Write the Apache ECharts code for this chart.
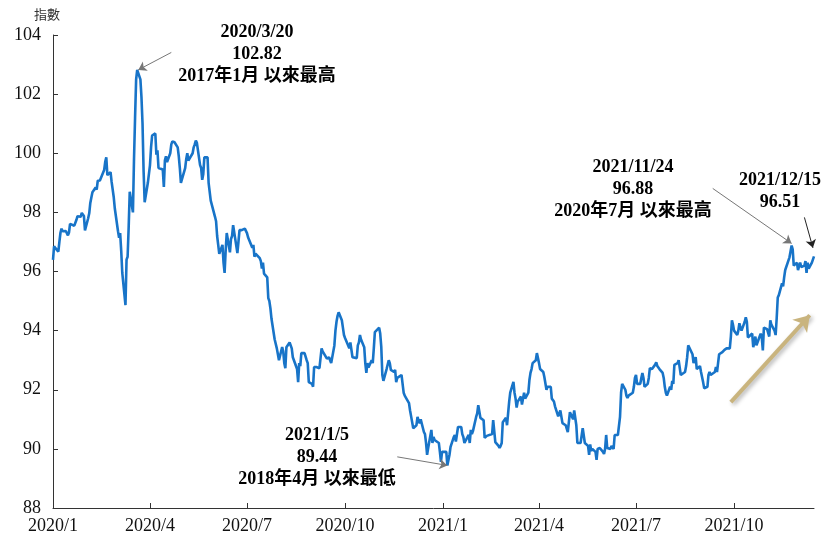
<!DOCTYPE html>
<html>
<head>
<meta charset="utf-8">
<script src="https://cdn.jsdelivr.net/npm/echarts@6/dist/echarts.min.js"></script>
<style>
  html, body { margin: 0; padding: 0; background: #fff; }
  #main { width: 825px; height: 540px; }
</style>
</head>
<body>
<div id="main"></div>
<script>
// 美元指數 日資料 (2020/1 ~ 2021/12/15)
var days2020 = [
  '01-01','01-02','01-03','01-06','01-07','01-08','01-09','01-10','01-13','01-14','01-15','01-16','01-17','01-21','01-22','01-23','01-24','01-27','01-28','01-29','01-30','01-31',
  '02-03','02-04','02-05','02-06','02-07','02-10','02-11','02-12','02-13','02-14','02-18','02-19','02-20','02-21','02-24','02-25','02-26','02-27','02-28',
  '03-02','03-03','03-04','03-05','03-06','03-09','03-10','03-11','03-12','03-13','03-16','03-17','03-18','03-19','03-20','03-23','03-24','03-25','03-26','03-27','03-30','03-31',
  '04-01','04-02','04-03','04-06','04-07','04-08','04-09','04-13','04-14','04-15','04-16','04-17','04-20','04-21','04-22','04-23','04-24','04-27','04-28','04-29','04-30',
  '05-01','05-04','05-05','05-06','05-07','05-08','05-11','05-12','05-13','05-14','05-15','05-18','05-19','05-20','05-21','05-22','05-25','05-26','05-27','05-28','05-29',
  '06-01','06-02','06-03','06-04','06-05','06-08','06-09','06-10','06-11','06-12','06-15','06-16','06-17','06-18','06-19','06-22','06-23','06-24','06-25','06-26','06-29','06-30',
  '07-01','07-02','07-06','07-07','07-08','07-09','07-10','07-13','07-14','07-15','07-16','07-17','07-20','07-21','07-22','07-23','07-24','07-27','07-28','07-29','07-30','07-31',
  '08-03','08-04','08-05','08-06','08-07','08-10','08-11','08-12','08-13','08-14','08-17','08-18','08-19','08-20','08-21','08-24','08-25','08-26','08-27','08-28','08-31',
  '09-01','09-02','09-03','09-04','09-07','09-08','09-09','09-10','09-11','09-14','09-15','09-16','09-17','09-18','09-21','09-22','09-23','09-24','09-25','09-28','09-29','09-30',
  '10-01','10-02','10-05','10-06','10-07','10-08','10-09','10-12','10-13','10-14','10-15','10-16','10-19','10-20','10-21','10-22','10-23','10-26','10-27','10-28','10-29','10-30',
  '11-02','11-03','11-04','11-05','11-06','11-09','11-10','11-11','11-12','11-13','11-16','11-17','11-18','11-19','11-20','11-23','11-24','11-25','11-26','11-27','11-30',
  '12-01','12-02','12-03','12-04','12-07','12-08','12-09','12-10','12-11','12-14','12-15','12-16','12-17','12-18','12-21','12-22','12-23','12-24','12-28','12-29','12-30','12-31'
];
var values2020 = [
  96.39,96.85,96.84,96.67,97.00,97.31,97.45,97.36,97.37,97.37,97.22,97.32,97.61,97.55,97.58,97.75,97.87,97.85,97.98,98.00,97.88,97.39,
  97.80,97.97,98.32,98.50,98.68,98.84,98.77,99.07,99.05,99.08,99.43,99.71,99.86,99.26,99.36,99.03,98.97,98.51,98.13,
  97.36,97.14,97.30,96.70,95.95,94.86,96.40,96.50,97.50,98.70,98.00,99.80,101.20,102.50,102.82,102.50,101.90,101.00,99.40,98.34,99.00,99.05,
  99.60,100.20,100.60,100.67,99.95,100.10,99.50,99.45,98.86,99.76,99.90,99.70,100.00,100.30,100.40,100.42,100.37,100.20,99.90,99.50,99.00,
  99.05,99.50,99.80,100.00,99.75,99.73,100.00,100.20,100.30,100.43,100.35,99.60,99.50,99.10,99.30,99.86,99.86,99.00,98.95,98.40,98.34,
  97.85,97.70,97.20,96.90,96.60,96.90,96.30,95.95,96.70,97.30,96.65,97.10,97.20,97.57,97.55,96.62,97.00,97.40,97.40,97.40,97.45,97.50,
  97.30,97.16,96.80,96.90,96.50,96.60,96.60,96.45,96.35,96.10,96.30,95.93,95.80,95.10,95.00,94.75,94.40,93.70,93.68,93.40,93.20,93.00,
  93.44,93.30,92.90,92.73,93.44,93.60,93.58,93.40,93.10,93.10,92.70,92.26,92.90,92.80,93.24,93.24,93.24,93.00,92.90,92.26,92.20,
  92.10,92.77,92.80,92.77,92.73,92.75,93.40,93.30,93.27,93.05,93.00,93.10,93.00,92.90,93.50,94.00,94.30,94.50,94.62,94.35,94.10,93.85,
  93.75,93.80,93.40,93.60,93.60,93.10,93.07,93.07,93.50,93.60,93.85,93.70,93.44,92.90,92.57,92.90,92.75,93.00,92.90,93.40,93.95,94.00,
  94.10,93.90,93.45,92.50,92.30,92.70,92.70,93.00,92.90,92.67,92.60,92.67,92.26,92.40,92.40,92.50,92.20,91.90,91.80,91.80,91.55,
  91.30,91.10,91.05,90.70,90.80,91.08,90.95,90.87,91.00,90.57,90.50,90.20,89.80,90.03,90.64,90.20,90.40,90.30,90.20,89.90,89.56,89.90
];
var days2021 = [
  '01-04','01-05','01-06','01-07','01-08','01-11','01-12','01-13','01-14','01-15','01-18','01-19','01-20','01-21','01-22','01-25','01-26','01-27','01-28','01-29',
  '02-01','02-02','02-03','02-04','02-05','02-08','02-09','02-10','02-11','02-12','02-16','02-17','02-18','02-19','02-22','02-23','02-24','02-25','02-26',
  '03-01','03-02','03-03','03-04','03-05','03-08','03-09','03-10','03-11','03-12','03-15','03-16','03-17','03-18','03-19','03-22','03-23','03-24','03-25','03-26','03-29','03-30','03-31',
  '04-01','04-02','04-05','04-06','04-07','04-08','04-09','04-12','04-13','04-14','04-15','04-16','04-19','04-20','04-21','04-22','04-23','04-26','04-27','04-28','04-29','04-30',
  '05-03','05-04','05-05','05-06','05-07','05-10','05-11','05-12','05-13','05-14','05-17','05-18','05-19','05-20','05-21','05-24','05-25','05-26','05-27','05-28','05-31',
  '06-01','06-02','06-03','06-04','06-07','06-08','06-09','06-10','06-11','06-14','06-15','06-16','06-17','06-18','06-21','06-22','06-23','06-24','06-25','06-28','06-29','06-30',
  '07-01','07-02','07-05','07-06','07-07','07-08','07-09','07-12','07-13','07-14','07-15','07-16','07-19','07-20','07-21','07-22','07-23','07-26','07-27','07-28','07-29','07-30',
  '08-02','08-03','08-04','08-05','08-06','08-09','08-10','08-11','08-12','08-13','08-16','08-17','08-18','08-19','08-20','08-23','08-24','08-25','08-26','08-27','08-30','08-31',
  '09-01','09-02','09-03','09-06','09-07','09-08','09-09','09-10','09-13','09-14','09-15','09-16','09-17','09-20','09-21','09-22','09-23','09-24','09-27','09-28','09-29','09-30',
  '10-01','10-04','10-05','10-06','10-07','10-08','10-11','10-12','10-13','10-14','10-15','10-18','10-19','10-20','10-21','10-22','10-25','10-26','10-27','10-28','10-29',
  '11-01','11-02','11-03','11-04','11-05','11-08','11-09','11-10','11-11','11-12','11-15','11-16','11-17','11-18','11-19','11-22','11-23','11-24','11-25','11-26','11-29','11-30',
  '12-01','12-02','12-03','12-06','12-07','12-08','12-09','12-10','12-13','12-14','12-15'
];
var values2021 = [
  89.90,89.44,89.50,89.80,90.07,90.40,90.47,90.25,90.30,90.74,90.74,90.50,90.40,90.20,90.20,90.47,90.20,90.64,90.50,90.60,
  91.08,91.20,91.48,91.50,91.05,90.97,90.37,90.40,90.44,90.47,90.50,90.97,90.60,90.23,90.10,90.03,90.10,90.20,90.90,
  91.05,90.80,91.20,91.60,91.90,92.27,91.90,91.70,91.40,91.60,91.77,91.50,91.44,91.90,91.70,91.90,92.33,92.57,92.70,92.90,93.00,93.24,93.30,
  92.90,92.70,92.60,92.43,92.40,92.00,92.10,92.10,91.70,91.65,91.60,91.44,91.10,91.05,91.30,91.30,90.87,90.80,90.80,90.57,90.60,91.24,
  91.00,91.30,91.30,90.80,90.20,90.20,90.20,90.70,90.70,90.20,90.10,89.80,90.15,89.93,90.00,89.90,89.63,90.00,90.00,90.03,89.90,
  89.83,90.00,90.47,90.03,90.00,90.10,90.10,90.00,90.47,90.47,90.50,91.08,91.90,92.20,92.00,91.80,91.72,91.80,91.80,91.90,92.10,92.40,
  92.50,92.20,92.20,92.40,92.57,92.40,92.10,92.20,92.40,92.73,92.70,92.70,92.85,92.93,92.80,92.80,92.70,92.57,92.40,92.10,91.90,91.80,
  92.10,92.00,92.30,92.20,92.84,92.90,93.00,93.00,92.50,92.50,92.60,92.80,93.10,93.50,93.50,93.20,92.90,92.84,93.10,92.70,92.80,92.60,
  92.60,92.25,92.05,92.10,92.50,92.60,92.50,92.50,92.60,92.77,92.60,92.90,93.20,93.27,93.30,93.35,93.30,93.40,93.40,93.80,94.35,94.20,
  94.00,93.85,94.00,94.25,94.10,94.00,94.30,94.45,94.30,93.77,93.80,93.90,93.44,93.60,93.80,93.50,93.80,93.90,93.77,93.33,94.10,
  94.05,94.10,93.80,94.35,94.20,94.00,93.85,94.42,95.12,95.20,95.60,95.50,95.80,96.05,96.00,96.48,96.50,96.88,96.75,96.20,96.30,96.05,
  96.05,96.30,96.15,96.20,96.35,95.95,96.30,96.10,96.30,96.35,96.51
];

// x 軸刻度 (季)
var quarterTicks = ['2020/1','2020/4','2020/7','2020/10','2021/1','2021/4','2021/7','2021/10'];

function ts(s) {
  var p = s.split(/[-\/]/);
  return new Date(+p[0], +p[1] - 1, p[2] ? +p[2] : 1).getTime();
}

var seriesData = [];
days2020.forEach(function (d, i) { seriesData.push([ts('2020-' + d), values2020[i]]); });
days2021.forEach(function (d, i) { seriesData.push([ts('2021-' + d), values2021[i]]); });

var tickValues = quarterTicks.map(ts);

var serif = '"Liberation Serif", "Times New Roman", "Noto Sans CJK TC", serif';
var boldFont = 'bold 18px ' + serif;
var grayLine = { color: '#777', width: 1, type: 'solid' };

var chart = echarts.init(document.getElementById('main'));
chart.setOption({
  animation: false,
  backgroundColor: '#fff',
  grid: { left: 53, right: 11, top: 35, bottom: 32 },
  xAxis: {
    type: 'value',
    min: ts('2020-01-01'),
    max: ts('2021-12-15'),
    axisLine: { show: true, lineStyle: { color: '#333', width: 1 } },
    axisTick: { show: true, inside: true, length: 5, customValues: tickValues, lineStyle: { color: '#333' } },
    axisLabel: {
      customValues: tickValues,
      margin: 9,
      color: '#111',
      fontSize: 18,
      fontFamily: serif,
      formatter: function (v) {
        var d = new Date(v);
        return d.getFullYear() + '/' + (d.getMonth() + 1);
      }
    },
    splitLine: { show: false }
  },
  yAxis: {
    type: 'value',
    min: 88,
    max: 104,
    interval: 2,
    axisLine: { show: true, lineStyle: { color: '#333', width: 1 } },
    axisTick: { show: true, inside: true, length: 5, lineStyle: { color: '#333' } },
    axisLabel: { color: '#111', fontSize: 18, fontFamily: serif, margin: 12 },
    splitLine: { show: false }
  },
  series: [
    {
      type: 'line',
      data: seriesData,
      showSymbol: false,
      lineStyle: { color: '#1874c8', width: 2.6 },
      markLine: {
        silent: true,
        animation: false,
        symbol: ['none', 'arrow'],
        label: { show: false },
        data: [
          [
            { coord: [ts('2020-04-21'), 103.41], lineStyle: grayLine },
            { coord: [ts('2020-03-21'), 102.82], symbolSize: 8 }
          ],
          [
            { coord: [ts('2020-11-19'), 89.73], lineStyle: grayLine },
            { coord: [ts('2021-01-05'), 89.44], symbolSize: 8 }
          ],
          [
            { coord: [ts('2021-09-11'), 98.81], lineStyle: grayLine },
            { coord: [ts('2021-11-24'), 96.95], symbolSize: 8 }
          ],
          [
            { coord: [ts('2021-12-06'), 97.83], lineStyle: { color: '#222', width: 1, type: 'solid' } },
            { coord: [ts('2021-12-14'), 96.8], symbolSize: 8 }
          ],
          [
            {
              coord: [ts('2021-09-28'), 91.58],
              lineStyle: {
                color: '#c9b47e', width: 4, type: 'solid',
                shadowBlur: 4, shadowColor: 'rgba(0,0,0,0.3)', shadowOffsetX: 2, shadowOffsetY: 2
              }
            },
            { coord: [ts('2021-12-11'), 94.52], symbolSize: 15 }
          ]
        ]
      }
    }
  ],
  graphic: [
    {
      type: 'text', left: 34, top: 8,
      style: { text: '指數', font: '13px "Noto Sans CJK TC", sans-serif', fill: '#333' }
    },
    {
      type: 'text', x: 257, y: 21,
      style: { text: '2020/3/20\n102.82\n2017年1月 以來最高', font: boldFont, fill: '#000', textAlign: 'center', lineHeight: 22 }
    },
    {
      type: 'text', x: 317, y: 424,
      style: { text: '2021/1/5\n89.44\n2018年4月 以來最低', font: boldFont, fill: '#000', textAlign: 'center', lineHeight: 22 }
    },
    {
      type: 'text', x: 633, y: 156,
      style: { text: '2021/11/24\n96.88\n2020年7月 以來最高', font: boldFont, fill: '#000', textAlign: 'center', lineHeight: 22 }
    },
    {
      type: 'text', x: 780, y: 169,
      style: { text: '2021/12/15\n96.51', font: boldFont, fill: '#000', textAlign: 'center', lineHeight: 22 }
    }
  ]
});
</script>
</body>
</html>
